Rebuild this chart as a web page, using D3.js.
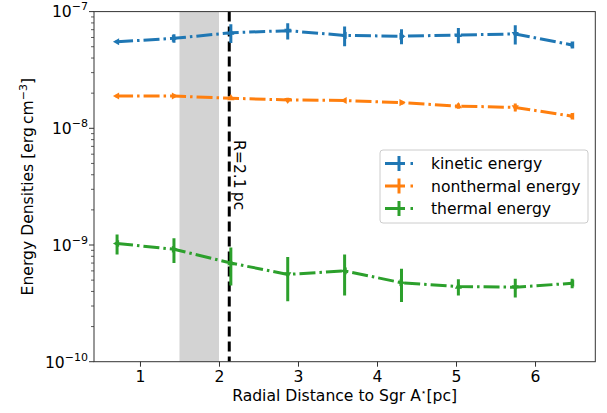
<!DOCTYPE html>
<html>
<head>
<meta charset="utf-8">
<script src="https://cdn.jsdelivr.net/npm/d3@7"></script>
<style>
  body { margin: 0; background: #fff; }
  text { font-family: "DejaVu Sans", sans-serif; fill: #000; }
</style>
</head>
<body>
<svg id="chart" width="607" height="413"></svg>
<script>
// radial distance bins [pc]
var radius = [0.71, 1.43, 2.15, 2.87, 3.59, 4.31, 5.03, 5.75, 6.47];

// energy densities [erg cm^-3]
var kinetic = [5.52e-8, 5.90e-8, 6.59e-8, 6.86e-8, 6.25e-8, 6.15e-8, 6.30e-8, 6.43e-8, 5.18e-8];
var kineticErr = [0.15e-8, 0.5e-8, 1.2e-8, 1.1e-8, 1.2e-8, 0.9e-8, 0.95e-8, 1.2e-8, 0.35e-8];
var nonthermal = [1.89e-8, 1.89e-8, 1.81e-8, 1.75e-8, 1.73e-8, 1.66e-8, 1.55e-8, 1.51e-8, 1.27e-8];
var nonthermalErr = [0.05e-8, 0.04e-8, 0.06e-8, 0.08e-8, 0.05e-8, 0.06e-8, 0.08e-8, 0.12e-8, 0.08e-8];
var thermal = [1.03e-9, 0.92e-9, 0.70e-9, 0.56e-9, 0.60e-9, 0.475e-9, 0.44e-9, 0.435e-9, 0.47e-9];
var thermalErr = [0.2e-9, 0.22e-9, 0.25e-9, 0.23e-9, 0.23e-9, 0.15e-9, 0.07e-9, 0.08e-9, 0.045e-9];

var seriesNames = ['kinetic energy', 'nonthermal energy', 'thermal energy'];
var xTicks = [1, 2, 3, 4, 5, 6];
var yTicks = [1e-10, 1e-9, 1e-8, 1e-7];
var yTickExp = ['\u221210', '\u22129', '\u22128', '\u22127'];
var shadedBand = [1.5, 2.0];
var radiusLine = 2.13;
var radiusLabel = 'R=2.1\u2009pc';

var colors = ['#1f77b4', '#ff7f0e', '#2ca02c'];
var fontSize = 15.6;

var svg = d3.select('#chart');
var plotL = 94, plotR = 595.3, plotT = 11.6, plotB = 361.7;

var x = d3.scaleLinear().domain([0.418, 6.763]).range([plotL, plotR]);
var y = d3.scaleLog().domain([1e-10, 1e-7]).range([plotB, plotT]);

var series = [
    { name: seriesNames[0], vals: kinetic, errs: kineticErr, color: colors[0] },
    { name: seriesNames[1], vals: nonthermal, errs: nonthermalErr, color: colors[1] },
    { name: seriesNames[2], vals: thermal, errs: thermalErr, color: colors[2] }
];

svg.append('defs').append('clipPath').attr('id', 'plotclip')
    .append('rect').attr('x', plotL).attr('y', plotT).attr('width', plotR - plotL).attr('height', plotB - plotT);

var plot = svg.append('g').attr('clip-path', 'url(#plotclip)');

// shaded region
plot.append('rect')
    .attr('x', x(shadedBand[0])).attr('y', plotT)
    .attr('width', x(shadedBand[1]) - x(shadedBand[0]))
    .attr('height', plotB - plotT)
    .attr('fill', '#d3d3d3');

// vertical dashed line
plot.append('line')
    .attr('x1', x(radiusLine)).attr('x2', x(radiusLine))
    .attr('y1', plotT).attr('y2', plotB)
    .attr('stroke', '#000').attr('stroke-width', 3)
    .attr('stroke-dasharray', '10,5');

svg.append('text')
    .attr('transform', 'translate(' + (x(radiusLine) + 5) + ',140) rotate(90)')
    .attr('text-anchor', 'start')
    .style('font-size', fontSize + 'px')
    .text(radiusLabel);

var lineGen = d3.line()
    .x(function(d, i) { return x(radius[i]); })
    .y(function(d) { return y(d); });

var markerRot = [-90, 90, 0, 180];

series.forEach(function(s) {
    var g = plot.append('g');
    g.append('path')
        .attr('d', lineGen(s.vals))
        .attr('fill', 'none')
        .attr('stroke', s.color)
        .attr('stroke-width', 3)
        .attr('stroke-dasharray', '16,4,2.5,4');
    g.selectAll('line.err').data(s.vals).enter().append('line')
        .attr('class', 'err')
        .attr('x1', function(d, i) { return x(radius[i]); })
        .attr('x2', function(d, i) { return x(radius[i]); })
        .attr('y1', function(d, i) { return y(d + s.errs[i]); })
        .attr('y2', function(d, i) { return y(Math.max(d - s.errs[i], 1e-11)); })
        .attr('stroke', s.color)
        .attr('stroke-width', 3);
    g.selectAll('path.mk').data(s.vals).enter().append('path')
        .attr('class', 'mk')
        .attr('d', d3.symbol(d3.symbolTriangle).size(22))
        .attr('transform', function(d, i) {
            return 'translate(' + x(radius[i]) + ',' + y(d) + ') rotate(' + markerRot[i % markerRot.length] + ')';
        })
        .attr('fill', s.color);
});

// frame
svg.append('rect')
    .attr('x', plotL).attr('y', plotT)
    .attr('width', plotR - plotL).attr('height', plotB - plotT)
    .attr('fill', 'none').attr('stroke', '#333').attr('stroke-width', 1);

// x axis
var xAxis = svg.append('g')
    .attr('transform', 'translate(0,' + plotB + ')')
    .call(d3.axisBottom(x).tickValues(xTicks).tickFormat(d3.format('d')).tickSize(5).tickPadding(4));
xAxis.select('.domain').remove();
xAxis.selectAll('.tick line').attr('stroke', '#333');
xAxis.selectAll('.tick text').style('font-size', fontSize + 'px')
    .style('font-family', '"DejaVu Sans", sans-serif').attr('fill', '#000');

// y axis (log): major + minor ticks
var minor = [];
for (var e = -10; e < -7; e++) {
    for (var m = 2; m <= 9; m++) minor.push(m * Math.pow(10, e));
}
var yAxis = svg.append('g').attr('transform', 'translate(' + plotL + ',0)');
yAxis.selectAll('line.minor').data(minor).enter().append('line')
    .attr('class', 'minor')
    .attr('x1', -3).attr('x2', 0)
    .attr('y1', function(d) { return y(d); }).attr('y2', function(d) { return y(d); })
    .attr('stroke', '#333').attr('stroke-width', 0.8);
yAxis.selectAll('line.major').data(yTicks).enter().append('line')
    .attr('class', 'major')
    .attr('x1', -5).attr('x2', 0)
    .attr('y1', function(d) { return y(d); }).attr('y2', function(d) { return y(d); })
    .attr('stroke', '#333').attr('stroke-width', 1);
var yLabels = yAxis.selectAll('text.ytick').data(yTicks).enter().append('text')
    .attr('class', 'ytick')
    .attr('x', -6).attr('y', function(d) { return y(d) + 5.8; })
    .attr('text-anchor', 'end')
    .style('font-size', fontSize + 'px');
yLabels.append('tspan').text('10');
yLabels.append('tspan').attr('dy', -7).style('font-size', '11px')
    .text(function(d, i) { return yTickExp[i]; });

// axis titles
var xt = svg.append('text')
    .attr('x', (plotL + plotR) / 2).attr('y', 401)
    .attr('text-anchor', 'middle')
    .style('font-size', fontSize + 'px');
xt.append('tspan').text('Radial Distance to Sgr A');
xt.append('tspan').attr('dy', -6).style('font-size', '9px').text('\u22c6');
xt.append('tspan').attr('dy', 6).text('[pc]');

var yt = svg.append('text')
    .attr('transform', 'translate(33,' + ((plotT + plotB) / 2) + ') rotate(-90)')
    .attr('text-anchor', 'middle')
    .style('font-size', fontSize + 'px');
yt.append('tspan').text('Energy Densities [erg\u2009cm');
yt.append('tspan').attr('dy', -6).style('font-size', '11px').text('\u22123');
yt.append('tspan').attr('dy', 6).text(']');

// legend
var legend = svg.append('g');
legend.append('rect')
    .attr('x', 380).attr('y', 150).attr('width', 208).attr('height', 73)
    .attr('rx', 3).attr('fill', '#fff').attr('fill-opacity', 0.8)
    .attr('stroke', '#ccc').attr('stroke-width', 1);
series.forEach(function(s, i) {
    var cy = 163.5 + i * 22.5;
    legend.append('line')
        .attr('x1', 385).attr('x2', 413).attr('y1', cy).attr('y2', cy)
        .attr('stroke', s.color).attr('stroke-width', 3)
        .attr('stroke-dasharray', '20,5.5,2.5');
    legend.append('line')
        .attr('x1', 399).attr('x2', 399).attr('y1', cy - 7.5).attr('y2', cy + 7.5)
        .attr('stroke', s.color).attr('stroke-width', 3);
    legend.append('text')
        .attr('x', 431).attr('y', cy + 5.5)
        .style('font-size', fontSize + 'px')
        .text(s.name);
});
</script>
</body>
</html>
